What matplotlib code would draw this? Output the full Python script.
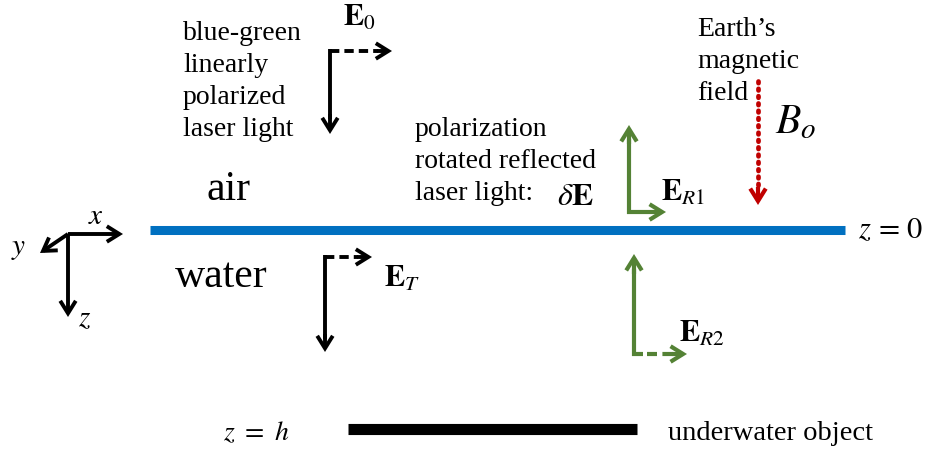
import matplotlib
matplotlib.use("Agg")
import matplotlib.pyplot as plt

plt.rcParams['font.family'] = ['Liberation Serif', 'DejaVu Serif']
plt.rcParams['mathtext.fontset'] = 'stix'

# ---- content ----
incident_lines = ["blue-green", "linearly", "polarized", "laser light"]
rotated_lines = ["polarization", "rotated reflected", "laser light:"]
field_lines = ["Earth\u2019s", "magnetic", "field"]
medium_labels = ["air", "water"]
field_labels = [r"$\mathbf{E}_{0}$", r"$\mathbf{E}_{T}$", r"$\mathbf{E}_{R1}$", r"$\mathbf{E}_{R2}$"]
object_text = "underwater object"

BLACK = "black"
GREEN = "#548235"
BLUE = "#0070C0"
RED = "#C00000"

fig = plt.figure(figsize=(9.3, 4.52), dpi=100)
ax = fig.add_axes([0, 0, 1, 1])
ax.set_xlim(0, 930)
ax.set_ylim(452, 0)
ax.axis('off')

LW = 2.8
LWG = 3.0
FS = 20
LINE_GAP = 32


def arrow(x0, y0, x1, y1, color, lw=LW):
    ax.annotate("", xy=(x1, y1), xytext=(x0, y0),
                arrowprops=dict(arrowstyle="->,head_length=0.45,head_width=0.28",
                                mutation_scale=20,
                                color=color, lw=lw, shrinkA=0, shrinkB=0,
                                joinstyle='miter', capstyle='butt'))


def dashed_arrow(x0, y0, x1, y1, color, lw=LW):
    d = 14 if x1 > x0 else -14
    ax.plot([x0, x1 - d], [y0, y1], color=color, lw=lw,
            linestyle=(0, (2.4, 1.3)), solid_capstyle='butt')
    arrow(x1 - d - 1, y1, x1, y1, color, lw)


def lines(x, y0, items, fs=FS):
    for i, s in enumerate(items):
        ax.text(x, y0 + i * LINE_GAP, s, fontsize=fs, ha='left', va='baseline')


# surface
ax.plot([150, 845], [231, 231], color=BLUE, lw=6.5, solid_capstyle='butt')
ax.text(858, 238, r"$z\,=\,0$", fontsize=22, ha='left', va='baseline')

# coordinate axes
ox, oy = 68, 235
arrow(ox, oy, 123, oy, BLACK)
arrow(ox, oy, 40, 254, BLACK)
arrow(ox, oy, ox, 318, BLACK)
ax.text(88, 224, r"$x$", fontsize=21, va='baseline')
ax.text(11, 254, r"$y$", fontsize=21, va='baseline')
ax.text(78, 326, r"$z$", fontsize=21, va='baseline')

# incident field E0
cx, cy = 330, 52
ax.plot([cx, cx], [cy - 2, 120], color=BLACK, lw=LW, solid_capstyle='butt')
arrow(cx, 115, cx, 135, BLACK)
dashed_arrow(cx, cy, 392, cy, BLACK)
ax.text(343, 26, field_labels[0], fontsize=22, va='baseline')

lines(183, 40, incident_lines)

# media labels
ax.text(206, 200, medium_labels[0], fontsize=30, va='baseline')
ax.text(175, 287, medium_labels[1], fontsize=30, va='baseline')

# transmitted field ET
cx, cy = 325, 258
ax.plot([cx, cx], [cy - 2, 340], color=BLACK, lw=LW, solid_capstyle='butt')
arrow(cx, 335, cx, 353, BLACK)
dashed_arrow(cx, cy, 372, cy, BLACK)
ax.text(384, 287, field_labels[1], fontsize=22, va='baseline')

# reflected field ER1
cx, cy = 629, 213
ax.plot([cx, cx], [cy + 2, 140], color=GREEN, lw=LWG, solid_capstyle='butt')
arrow(cx, 145, cx, 126, GREEN, LWG)
arrow(cx - 2, cy, 666, cy, GREEN, LWG)
ax.text(661, 201, field_labels[2], fontsize=22, va='baseline')

# reflected field ER2
cx, cy = 634, 355
ax.plot([cx, cx], [cy + 2, 270], color=GREEN, lw=LWG, solid_capstyle='butt')
arrow(cx, 275, cx, 255, GREEN, LWG)
ax.plot([cx - 2, cx + 9], [cy, cy], color=GREEN, lw=LWG, solid_capstyle='butt')
dashed_arrow(cx + 13, cy, 687, cy, GREEN, LWG)
ax.text(679, 342, field_labels[3], fontsize=22, va='baseline')

# rotated text
lines(415, 136, rotated_lines)
ax.text(557, 205, r"$\delta\mathbf{E}$", fontsize=23, va='baseline')

# Earth's field
lines(697, 36, field_lines)
ax.plot([758, 758], [82, 190], color=RED, lw=3.4, linestyle=(0, (0.35, 1.2)),
        dash_capstyle='round')
arrow(758, 188, 758, 206, RED, lw=3.0)
ax.text(775, 133, r"$B_{o}$", fontsize=30, va='baseline')

# underwater object
ax.plot([348, 637], [430, 430], color=BLACK, lw=8, solid_capstyle='butt')
ax.text(223, 440, r"$z\ =\ h$", fontsize=20, va='baseline')
ax.text(668, 440, object_text, fontsize=FS + 0.5, va='baseline')

fig.savefig("out.png", dpi=100)
